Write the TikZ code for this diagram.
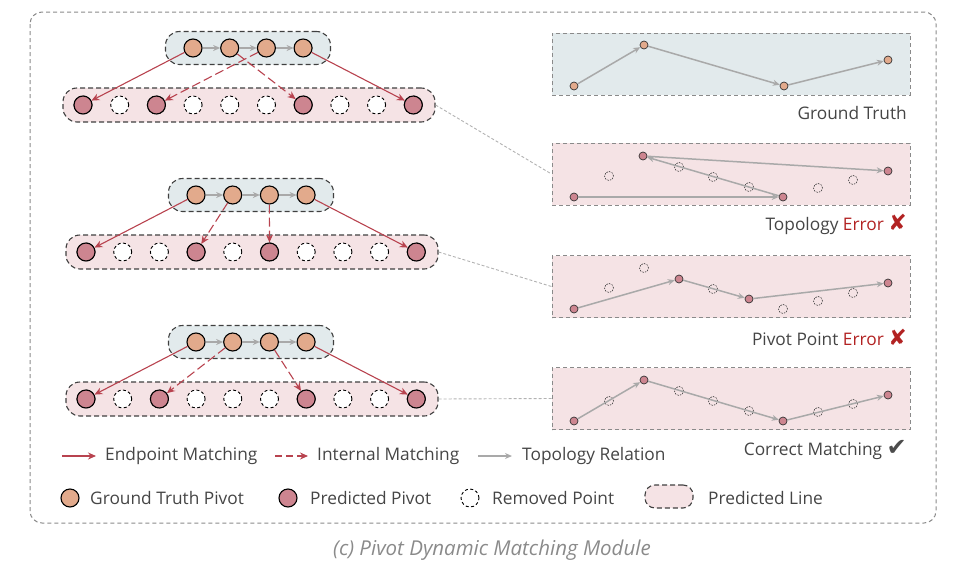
\documentclass[tikz,border=0pt]{standalone}
\usepackage{fontspec}
\setmainfont{Open Sans}
\newfontfamily\symfont{DejaVu Sans}
\usetikzlibrary{arrows.meta}
\usetikzlibrary{positioning}
\usetikzlibrary{calc}

\definecolor{gtfill}{HTML}{E2AA8C}
\definecolor{pdfill}{HTML}{CD8590}
\definecolor{gtbg}{HTML}{E2EAEC}
\definecolor{pdbg}{HTML}{F5E3E5}
\definecolor{matchred}{HTML}{B8434F}
\definecolor{topogray}{HTML}{A9A9A9}
\definecolor{txtgray}{HTML}{454545}
\definecolor{errred}{HTML}{B22222}
\definecolor{framegray}{HTML}{8A8A8A}

\tikzset{
  gtpt/.style={circle,draw=black,line width=1.1pt,fill=gtfill,minimum size=18pt,inner sep=0pt},
  pdpt/.style={gtpt,fill=pdfill},
  rmpt/.style={circle,draw=black,line width=0.9pt,dash pattern=on 3pt off 2.4pt,fill=white,minimum size=18pt,inner sep=0pt},
  gtbox/.style={draw=black!75,line width=1.1pt,dash pattern=on 5pt off 3pt,fill=gtbg,rounded corners=14pt,inner sep=0pt},
  pdbox/.style={gtbox,fill=pdbg},
  endmatch/.style={draw=matchred,line width=1.1pt,-{Stealth[length=8pt,width=7pt]}},
  intmatch/.style={endmatch,dash pattern=on 9pt off 4pt},
  topo/.style={draw=topogray,line width=1.5pt,-{Stealth[length=7pt,width=6pt]}},
  % right side panels
  gtpanel/.style={draw=framegray,line width=1pt,dash pattern=on 4pt off 3pt,fill=gtbg,minimum width=358pt,minimum height=62pt,inner sep=0pt},
  pdpanel/.style={gtpanel,fill=pdbg},
  sgt/.style={circle,draw=black!80,line width=0.7pt,fill=gtfill,minimum size=8pt,inner sep=0pt},
  spd/.style={sgt,fill=pdfill},
  srm/.style={circle,draw=black!80,line width=0.6pt,dash pattern=on 1.5pt off 1.2pt,minimum size=9pt,inner sep=0pt},
  lbl/.style={text=txtgray,font=\fontsize{17.3}{20}\selectfont,inner sep=0pt},
  link/.style={draw=black!30,line width=0.9pt,dash pattern=on 3pt off 2pt},
}
\newcommand{\badmark}{{\symfont\fontsize{22}{22}\selectfont\textcolor{errred}{✘}}}
\newcommand{\okmark}{{\symfont\fontsize{24}{24}\selectfont\textcolor{black!70}{✔}}}

\begin{document}
\begin{tikzpicture}[x=1pt,y=-1pt]
  \useasboundingbox (0,0) rectangle (966,570);
  \draw[framegray,line width=1pt,dash pattern=on 4pt off 3pt,rounded corners=12pt] (30,12) rectangle (936,523);

  % linke Seite: drei Gruppen
  \foreach \g/\gx/\gy/\px/\py/\b/\c in {1/193/48/83/105/6/2,2/196/195/86/252/3/5,3/196/342/86/399/2/6}{
    \node[gtbox,minimum width=165pt,minimum height=33pt] (gl\g) at (\gx+55,\gy) {};
    \node[pdbox,minimum width=372pt,minimum height=34pt] (pl\g) at (\px+166,\py) {};
    \foreach \i in {0,...,3}
      \node[gtpt] (g\g-\i) at (\gx+36.7*\i,\gy) {};
    \foreach \i in {0,...,9}
      \node[rmpt] (p\g-\i) at (\px+36.7*\i,\py) {};
    \foreach \i in {0,\b,\c,9}
      \node[pdpt] (p\g-\i) at (\px+36.7*\i,\py) {};
    \foreach \i/\j in {0/1,1/2,2/3}
      \draw[topo] (g\g-\i) -- (g\g-\j);
    \draw[endmatch] (g\g-0) -- (p\g-0);
    \draw[intmatch] (g\g-1) -- (p\g-\b);
    \draw[intmatch] (g\g-2) -- (p\g-\c);
    \draw[endmatch] (g\g-3) -- (p\g-9);
  }

  % rechte Seite
  \node[gtpanel] (rp0) at (731,64) {};
  \node[pdpanel] (rp1) at (731,174) {};
  \node[pdpanel] (rp2) at (731,286.5) {};
  \node[pdpanel] (rp3) at (731,398.5) {};

  \draw[link] (pl1.east) -- (rp1.west);
  \draw[link] (pl2.east) -- (rp2.west);
  \draw[link] (pl3.east) -- (rp3.west);

  % Ground Truth
  \foreach \n/\x/\y in {a/574/86,b/644/45,c/784/86,d/888/60}
    \node[sgt] (t0\n) at (\x,\y) {};
  \foreach \i/\j in {a/b,b/c,c/d}
    \draw[topo] (t0\i) -- (t0\j);

  % Topology Error
  \foreach \n/\x/\y in {a/574/197,b/643/156,c/783/197,d/888/171}
    \node[spd] (t1\n) at (\x,\y) {};
  \foreach \x/\y in {609/176,679/167,713/177,749/187,818/188,853/180}
    \node[srm] at (\x,\y) {};
  \foreach \i/\j in {a/c,c/b,b/d}
    \draw[topo] (t1\i) -- (t1\j);

  % Pivot Point Error
  \foreach \n/\x/\y in {a/574/309,b/679/279,c/749/299,d/888/283}
    \node[spd] (t2\n) at (\x,\y) {};
  \foreach \x/\y in {609/288,644/268,713/289,783/309,818/301,853/293}
    \node[srm] at (\x,\y) {};
  \foreach \i/\j in {a/b,b/c,c/d}
    \draw[topo] (t2\i) -- (t2\j);

  % Correct Matching
  \foreach \n/\x/\y in {a/574/421,b/644/380,c/783/421,d/888/395}
    \node[spd] (t3\n) at (\x,\y) {};
  \foreach \x/\y in {609/401,679/391,713/401,749/411,818/412,853/404}
    \node[srm] at (\x,\y) {};
  \foreach \i/\j in {a/b,b/c,c/d}
    \draw[topo] (t3\i) -- (t3\j);

  \node[lbl,anchor=east] (lab0) at (907,113) {Ground Truth};
  \node[lbl,anchor=east] (lab1) at (907,224) {Topology \textcolor{errred}{Error} \badmark};
  \node[lbl,anchor=east] (lab2) at (907,337) {Pivot Point \textcolor{errred}{Error} \badmark};
  \node[lbl,anchor=east] (lab3) at (907,450) {Correct Matching \okmark};

  % Legende
  \coordinate (e1) at (62,456);
  \coordinate (e2) at (96,456);
  \coordinate (i1) at (275,456);
  \coordinate (i2) at (308,456);
  \coordinate (r1) at (478,456);
  \coordinate (r2) at (512,456);
  \draw[endmatch] (e1) -- (e2);
  \draw[intmatch,dash pattern=on 7pt off 4pt] (i1) -- (i2);
  \draw[topo] (r1) -- (r2);
  \node[lbl,anchor=west] (le) at (105,456) {Endpoint Matching};
  \node[lbl,anchor=west] (li) at (317,456) {Internal Matching};
  \node[lbl,anchor=west] (lr) at (522,456) {Topology Relation};

  \node[gtpt] (lgt) at (70,498) {};
  \node[pdpt] (lpd) at (288,498) {};
  \node[rmpt] (lrm) at (470,498) {};
  \node[pdbox,minimum width=48pt,minimum height=23pt,rounded corners=10pt] (lpl) at (669,496.5) {};
  \node[lbl,anchor=west] at (90,498) {Ground Truth Pivot};
  \node[lbl,anchor=west] at (310,498) {Predicted Pivot};
  \node[lbl,anchor=west] at (492,498) {Removed Point};
  \node[lbl,anchor=west] at (708,498) {Predicted Line};

  \node[text=framegray,font=\fontsize{20.5}{24}\selectfont\itshape] (cap) at (492,550) {(c) Pivot Dynamic Matching Module};
\end{tikzpicture}
\end{document}
